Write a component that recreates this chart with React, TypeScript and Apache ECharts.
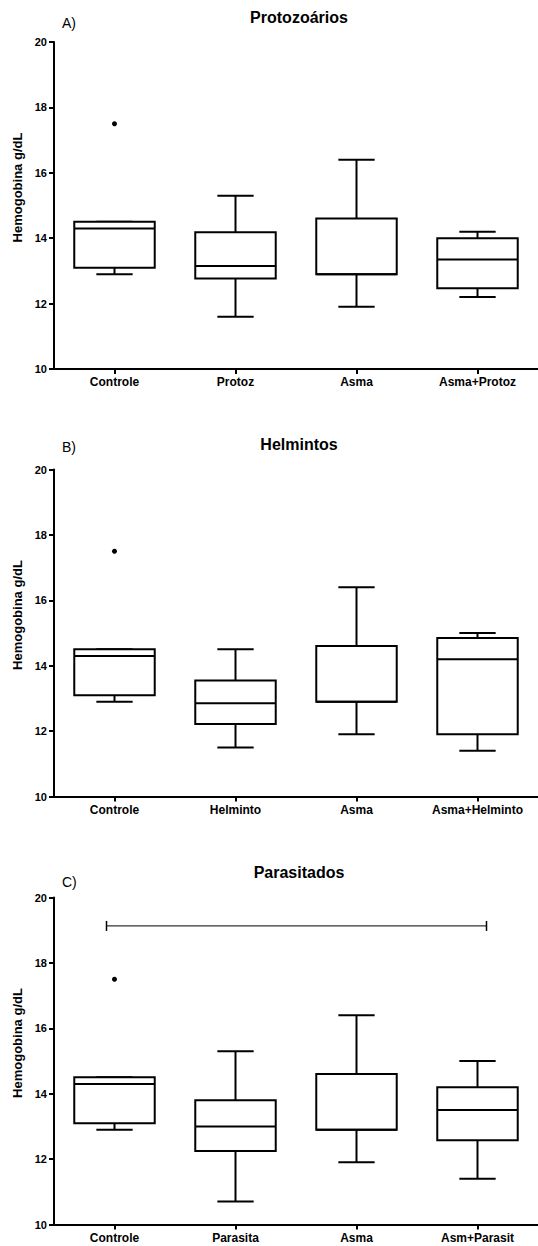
import React, { useEffect, useRef } from "react";
import * as echarts from "echarts";

// ---- data ----
const categoriesA = ["Controle", "Protoz", "Asma", "Asma+Protoz"];
const categoriesB = ["Controle", "Helminto", "Asma", "Asma+Helminto"];
const categoriesC = ["Controle", "Parasita", "Asma", "Asm+Parasit"];

// [min, Q1, median, Q3, max]
const controle = [12.9, 13.1, 14.3, 14.5, 14.5];
const protoz = [11.6, 12.77, 13.15, 14.18, 15.3];
const asma = [11.9, 12.9, 12.9, 14.6, 16.4];
const asmaProtoz = [12.2, 12.47, 13.35, 14.0, 14.2];
const helminto = [11.5, 12.22, 12.85, 13.55, 14.5];
const asmaHelminto = [11.4, 11.9, 14.2, 14.85, 15.0];
const parasita = [10.7, 12.25, 13.0, 13.8, 15.3];
const asmParasit = [11.4, 12.58, 13.5, 14.2, 15.0];

// outliers: [categoryIndex, value]
const outliersA = [[0, 17.5]];
const outliersB = [[0, 17.5]];
const outliersC = [[0, 17.5]];

// comparison bracket in panel C: [fromIndex, toIndex, value]
const bracketC = [[0, 3, 19.13]];

const titles = ["Protozoários", "Helmintos", "Parasitados"];
const letters = ["A)", "B)", "C)"];
const yTicks = { min: 10, max: 20, interval: 2 };
const yName = "Hemogobina g/dL";

const FONT = "'Liberation Sans', Arial, Helvetica, sans-serif";

export default function App() {
  const ref = useRef<HTMLDivElement>(null);

  useEffect(() => {
    document.body.style.margin = "0";
    if (!ref.current) return;
    const chart = echarts.init(ref.current, null, { renderer: "svg" });

    const grids = [
      { left: 54, width: 490, top: 42, height: 327 },
      { left: 54, width: 490, top: 469.5, height: 327 },
      { left: 54, width: 490, top: 897.5, height: 327 },
    ];
    const cats = [categoriesA, categoriesB, categoriesC];
    const boxes = [
      [controle, protoz, asma, asmaProtoz],
      [controle, helminto, asma, asmaHelminto],
      [controle, parasita, asma, asmParasit],
    ];
    const outs = [outliersA, outliersB, outliersC];
    const titleTops = [9, 436, 864];
    const letterTops = [16, 440, 875];

    const renderBox = (params: any, api: any) => {
      const idx = api.value(0);
      const mn = api.coord([idx, api.value(1)]);
      const q1 = api.coord([idx, api.value(2)]);
      const md = api.coord([idx, api.value(3)]);
      const q3 = api.coord([idx, api.value(4)]);
      const mx = api.coord([idx, api.value(5)]);
      const band = api.size([1, 0])[0];
      const cx = mn[0];
      const bw = band * 0.665;
      const cw = band * 0.3;
      const ls = { stroke: "#000", lineWidth: 2, fill: null };
      return {
        type: "group",
        children: [
          { type: "line", shape: { x1: cx, y1: q3[1], x2: cx, y2: mx[1] }, style: ls },
          { type: "line", shape: { x1: cx, y1: q1[1], x2: cx, y2: mn[1] }, style: ls },
          { type: "line", shape: { x1: cx - cw / 2, y1: mx[1], x2: cx + cw / 2, y2: mx[1] }, style: ls },
          { type: "line", shape: { x1: cx - cw / 2, y1: mn[1], x2: cx + cw / 2, y2: mn[1] }, style: ls },
          {
            type: "rect",
            shape: { x: cx - bw / 2, y: q3[1], width: bw, height: q1[1] - q3[1] },
            style: { fill: "#fff", stroke: "#000", lineWidth: 2 },
          },
          { type: "line", shape: { x1: cx - bw / 2, y1: md[1], x2: cx + bw / 2, y2: md[1] }, style: ls },
        ],
      };
    };

    const renderBracket = (params: any, api: any) => {
      const a = api.coord([api.value(0), api.value(2)]);
      const b = api.coord([api.value(1), api.value(2)]);
      const x1 = a[0] - 8;
      const x2 = b[0] + 9;
      const y = a[1];
      const st = { stroke: "#333", lineWidth: 1.2, fill: null };
      return {
        type: "group",
        children: [
          { type: "line", shape: { x1, y1: y, x2, y2: y }, style: st },
          { type: "line", shape: { x1, y1: y - 5, x2: x1, y2: y + 5 }, style: { stroke: "#000", lineWidth: 1.5 } },
          { type: "line", shape: { x1: x2, y1: y - 5, x2, y2: y + 5 }, style: { stroke: "#000", lineWidth: 1.5 } },
        ],
      };
    };

    const series: any[] = [];
    grids.forEach((g, i) => {
      series.push({
        type: "custom",
        xAxisIndex: i,
        yAxisIndex: i,
        renderItem: renderBox,
        encode: { x: 0, y: [1, 2, 3, 4, 5] },
        data: boxes[i].map((b, k) => [k, ...b]),
        silent: true,
      });
      series.push({
        type: "scatter",
        xAxisIndex: i,
        yAxisIndex: i,
        symbol: "circle",
        symbolSize: 5,
        itemStyle: { color: "#000", opacity: 1 },
        data: outs[i],
        silent: true,
      });
    });
    series.push({
      type: "custom",
      xAxisIndex: 2,
      yAxisIndex: 2,
      renderItem: renderBracket,
      encode: { x: [0, 1], y: 2 },
      data: bracketC,
      silent: true,
    });

    const option: any = {
      animation: false,
      backgroundColor: "#fff",
      textStyle: { fontFamily: FONT },
      title: [
        ...titles.map((t, i) => ({
          text: t,
          left: 299,
          top: titleTops[i],
          textAlign: "center",
          padding: 0,
          textStyle: { fontFamily: FONT, fontSize: 16, fontWeight: "bold", color: "#000" },
        })),
        ...letters.map((t, i) => ({
          text: t,
          left: 62,
          top: letterTops[i],
          padding: 0,
          textStyle: { fontFamily: FONT, fontSize: 14, fontWeight: "normal", color: "#000" },
        })),
      ],
      grid: grids,
      xAxis: grids.map((g, i) => ({
        type: "category",
        gridIndex: i,
        data: cats[i],
        boundaryGap: true,
        axisLine: { show: true, lineStyle: { color: "#000", width: 2 } },
        axisTick: { show: true, alignWithLabel: true, length: 5, lineStyle: { color: "#000", width: 2 } },
        axisLabel: {
          interval: 0,
          margin: 7,
          fontFamily: FONT,
          fontSize: 12,
          fontWeight: "bold",
          color: "#000",
        },
        splitLine: { show: false },
      })),
      yAxis: grids.map((g, i) => ({
        type: "value",
        gridIndex: i,
        min: yTicks.min,
        max: yTicks.max,
        interval: yTicks.interval,
        name: yName,
        nameLocation: "middle",
        nameRotate: 90,
        nameGap: 27,
        nameTextStyle: {
          fontFamily: FONT,
          fontSize: 13,
          fontWeight: "bold",
          color: "#000",
          padding: [0, 0, 0, 36],
        },
        axisLine: { show: true, lineStyle: { color: "#000", width: 2 } },
        axisTick: { show: true, length: 5, lineStyle: { color: "#000", width: 2 } },
        axisLabel: {
          margin: 7,
          fontFamily: FONT,
          fontSize: 11,
          fontWeight: "bold",
          color: "#000",
        },
        splitLine: { show: false },
      })),
      series,
    };

    chart.setOption(option);
    return () => chart.dispose();
  }, []);

  return <div ref={ref} style={{ width: 538, height: 1246 }} />;
}
